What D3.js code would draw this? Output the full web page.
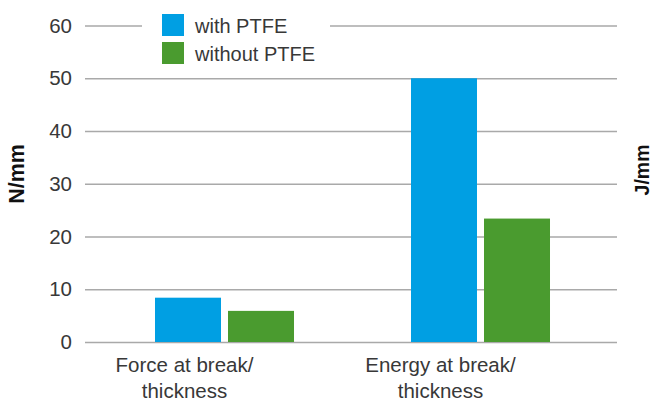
<!DOCTYPE html>
<html>
<head>
<meta charset="utf-8">
<script src="https://cdn.jsdelivr.net/npm/d3@7"></script>
<style>
  html, body { margin: 0; padding: 0; background: #fff; }
  svg { display: block; font-family: "Liberation Sans", Arial, sans-serif; }
</style>
</head>
<body>
<svg id="chart" width="653" height="402"></svg>
<script>
// Tensile results for membranes with and without PTFE
const categories = ["Force at break/\nthickness", "Energy at break/\nthickness"];
const seriesNames = ["with PTFE", "without PTFE"];
const withPTFE = [8.4, 50];
const withoutPTFE = [5.9, 23.4];
const yTicks = [0, 10, 20, 30, 40, 50, 60];
const colors = ["#009fe3", "#4a9b2f"];

const svg = d3.select("#chart");

const gridLeft = 85, gridRight = 617;
const textColor = "#383838";

const y = d3.scaleLinear().domain([0, 60]).range([342, 25.5]);

const x0 = d3.scaleBand()
  .domain(categories)
  .range([96.5, 608.5])
  .paddingInner(0.457)
  .paddingOuter(0.2285);

const x1 = d3.scaleBand()
  .domain(seriesNames)
  .range([0, x0.bandwidth()])
  .paddingInner(0.096);

const rows = categories.map((c, i) => ({
  cat: c,
  vals: [
    { name: seriesNames[0], v: withPTFE[i] },
    { name: seriesNames[1], v: withoutPTFE[i] }
  ]
}));

// Horizontal gridlines with tick labels
const yAxis = d3.axisLeft(y)
  .tickValues(yTicks)
  .tickSize(-(gridRight - gridLeft))
  .tickPadding(13)
  .tickFormat(d3.format("d"));

const gAxis = svg.append("g")
  .attr("transform", `translate(${gridLeft},0)`)
  .call(yAxis);
gAxis.select(".domain").remove();
gAxis.selectAll(".tick line")
  .attr("stroke", "#a9a9a9")
  .attr("stroke-width", 1.5);
gAxis.selectAll(".tick text")
  .attr("fill", textColor)
  .attr("font-size", 20.5)
  .attr("font-family", "Liberation Sans, Arial, sans-serif");

// Bars
const groups = svg.append("g").selectAll("g")
  .data(rows)
  .join("g")
  .attr("transform", d => `translate(${x0(d.cat)},0)`);

groups.selectAll("rect")
  .data(d => d.vals)
  .join("rect")
  .attr("x", d => x1(d.name))
  .attr("y", d => y(d.v))
  .attr("width", x1.bandwidth())
  .attr("height", d => y(0) - y(d.v))
  .attr("fill", (d, i) => colors[i]);

// Category labels (two lines each)
const catLabels = svg.append("g").selectAll("text")
  .data(categories)
  .join("text")
  .attr("text-anchor", "middle")
  .attr("fill", textColor)
  .attr("font-size", 20.5)
  .attr("transform", d => `translate(${x0(d) + x0.bandwidth() / 2 - 40},0)`);

catLabels.each(function(d) {
  const lines = d.split("\n");
  d3.select(this).selectAll("tspan")
    .data(lines)
    .join("tspan")
    .attr("x", 0)
    .attr("y", (l, i) => 372 + i * 26)
    .text(l => l);
});

// Axis titles
svg.append("text")
  .attr("transform", "translate(24,174) rotate(-90)")
  .attr("text-anchor", "middle")
  .attr("font-weight", "bold")
  .attr("font-size", 21.5)
  .attr("fill", "#111")
  .text("N/mm");

svg.append("text")
  .attr("transform", "translate(649,170) rotate(-90)")
  .attr("text-anchor", "middle")
  .attr("font-weight", "bold")
  .attr("font-size", 19.5)
  .attr("fill", "#111")
  .text("J/mm");

// Legend on a white panel over the top gridline
const legend = svg.append("g");
legend.append("rect")
  .attr("x", 142).attr("y", 8)
  .attr("width", 188).attr("height", 62)
  .attr("fill", "#fff");

const li = legend.selectAll("g.item")
  .data(seriesNames)
  .join("g")
  .attr("class", "item")
  .attr("transform", (d, i) => `translate(162,${14 + i * 28})`);

li.append("rect")
  .attr("width", 22).attr("height", 22)
  .attr("fill", (d, i) => colors[i]);

li.append("text")
  .attr("x", 33).attr("y", 19)
  .attr("font-size", 20)
  .attr("fill", textColor)
  .text(d => d);
</script>
</body>
</html>
